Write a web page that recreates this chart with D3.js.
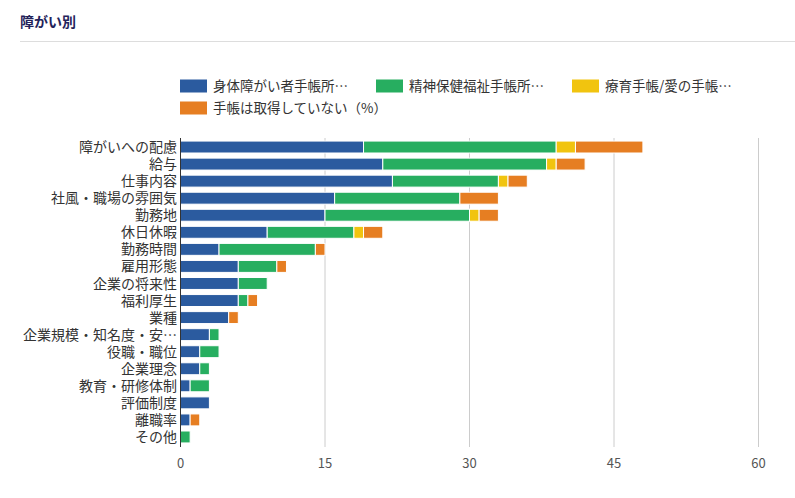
<!DOCTYPE html>
<html>
<head>
<meta charset="utf-8">
<script src="https://cdn.jsdelivr.net/npm/d3@7"></script>
<style>
    body { margin: 0; background: #fff; font-family: "Noto Sans CJK JP", "Noto Sans", sans-serif; }
    svg text { fill: #333; }
</style>
</head>
<body>
<svg id="chart" width="795" height="498"></svg>
<script>
// Categories, top to bottom
const categories = ["障がいへの配慮", "給与", "仕事内容", "社風・職場の雰囲気", "勤務地", "休日休暇", "勤務時間",
    "雇用形態", "企業の将来性", "福利厚生", "業種", "企業規模・知名度・安…", "役職・職位", "企業理念",
    "教育・研修体制", "評価制度", "離職率", "その他"]
const seriesNames = ["身体障がい者手帳所…", "精神保健福祉手帳所…", "療育手帳/愛の手帳…", "手帳は取得していない（%）"]
const seriesColors = ["#2b5b9f", "#27ae60", "#f1c40f", "#e67e22"]

// Values per series (same order as categories)
const shintai  = [19, 21, 22, 16, 15, 9, 4, 6, 6, 6, 5, 3, 2, 2, 1, 3, 1, 0]
const seishin  = [20, 17, 11, 13, 15, 9, 10, 4, 3, 1, 0, 1, 2, 1, 2, 0, 0, 1]
const ryouiku  = [2, 1, 1, 0, 1, 1, 0, 0, 0, 0, 0, 0, 0, 0, 0, 0, 0, 0]
const nashi    = [7, 3, 2, 4, 2, 2, 1, 1, 0, 1, 1, 0, 0, 0, 0, 0, 1, 0]
const xTicks = [0, 15, 30, 45, 60]

const svg = d3.select("#chart")

// Title and rule under it
svg.append("text")
    .attr("x", 20).attr("y", 27)
    .style("font-size", "14px").style("font-weight", "bold").style("fill", "#23235a")
    .text("障がい別")
svg.append("line")
    .attr("x1", 20).attr("x2", 795).attr("y1", 41.5).attr("y2", 41.5)
    .attr("stroke", "#dddddd")

// Legend
const legendPos = [[180, 86], [376, 86], [572, 86], [180, 108]]
seriesNames.forEach(function(name, i) {
    var g = svg.append("g").attr("transform", "translate(" + legendPos[i][0] + "," + legendPos[i][1] + ")")
    g.append("rect").attr("x", 0).attr("y", -6.5).attr("width", 27).attr("height", 13).attr("fill", seriesColors[i])
    g.append("text").attr("x", 33).attr("y", 0).attr("dy", "0.36em")
        .style("font-size", "13.5px").text(name)
})

// Scales
const x = d3.scaleLinear().domain([0, 60]).range([180.5, 758.5])
const y = d3.scaleBand().domain(categories).range([138.5, 445.5]).paddingInner(0.3).paddingOuter(0.15)

// Gridlines
svg.append("g").selectAll("line")
    .data(xTicks.slice(1))
    .enter().append("line")
    .attr("x1", d => x(d)).attr("x2", d => x(d))
    .attr("y1", 138).attr("y2", 447)
    .attr("stroke", "#cccccc")

// Stacked bars
const table = categories.map(function(c, i) {
    return {cat: c, s0: shintai[i], s1: seishin[i], s2: ryouiku[i], s3: nashi[i]}
})
const stack = d3.stack().keys(["s0", "s1", "s2", "s3"])(table)

svg.append("g").selectAll("g")
    .data(stack)
    .enter().append("g")
    .attr("fill", (d, i) => seriesColors[i])
    .selectAll("rect")
    .data(d => d.filter(p => p[1] - p[0] > 0))
    .enter().append("rect")
    .attr("x", d => x(d[0]))
    .attr("width", d => x(d[1]) - x(d[0]))
    .attr("y", d => y(d.data.cat))
    .attr("height", y.bandwidth())
    .attr("stroke", "#fff")
    .attr("stroke-width", 1)

// Y axis labels
svg.append("g").selectAll("text")
    .data(categories)
    .enter().append("text")
    .attr("x", 177)
    .attr("y", d => y(d) + y.bandwidth() / 2)
    .attr("dy", "0.36em")
    .attr("text-anchor", "end")
    .style("font-size", "14px")
    .text(d => d)

svg.append("line")
    .attr("x1", 180.5).attr("x2", 180.5).attr("y1", 138).attr("y2", 447)
    .attr("stroke", "#333")

// X tick labels
svg.append("g").selectAll("text")
    .data(xTicks)
    .enter().append("text")
    .attr("x", d => x(d))
    .attr("y", 463)
    .attr("dy", "0.35em")
    .attr("text-anchor", "middle")
    .style("font-size", "13px")
    .style("fill", "#555")
    .text(d => d)
</script>
</body>
</html>
